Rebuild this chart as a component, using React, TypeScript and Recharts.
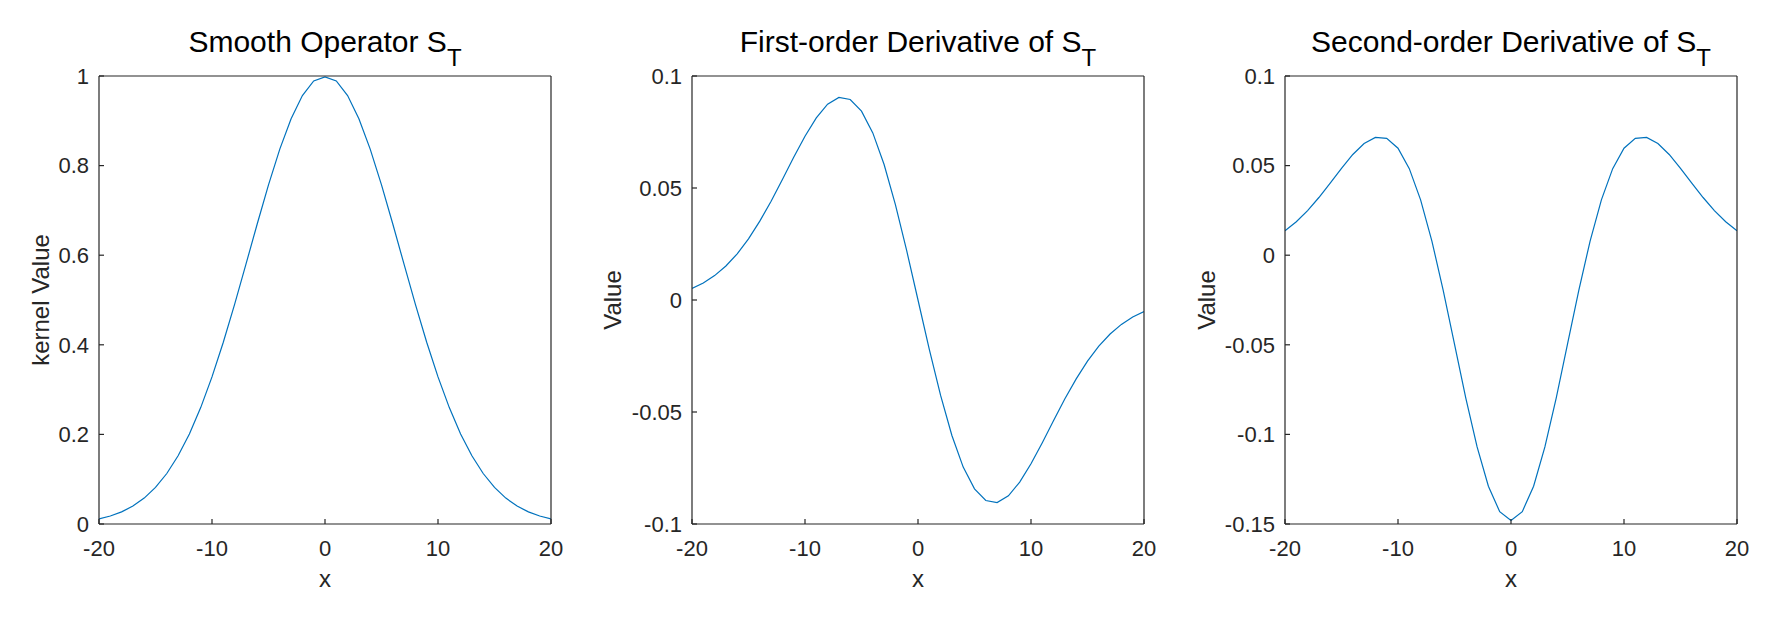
import React from 'react';
import { LineChart, Line, XAxis, YAxis } from 'recharts';

// ---------- data ----------
const xValues = [
  -20, -19, -18, -17, -16, -15, -14, -13, -12, -11, -10, -9, -8, -7, -6, -5, -4, -3, -2, -1,
  0, 1, 2, 3, 4, 5, 6, 7, 8, 9, 10, 11, 12, 13, 14, 15, 16, 17, 18, 19, 20,
];

const kernelValues = [
  0.0116, 0.0179, 0.0271, 0.04, 0.0578, 0.0816, 0.1127, 0.1522, 0.2011, 0.2598, 0.3283,
  0.4057, 0.4903, 0.5794, 0.6697, 0.757, 0.8368, 0.9046, 0.9564, 0.9889, 0.998,
  0.9889, 0.9564, 0.9046, 0.8368, 0.757, 0.6697, 0.5794, 0.4903, 0.4057, 0.3283,
  0.2598, 0.2011, 0.1522, 0.1127, 0.0816, 0.0578, 0.04, 0.0271, 0.0179, 0.0116,
];

const firstDerivValues = [
  0.0052, 0.0076, 0.0109, 0.0152, 0.0206, 0.0273, 0.0352, 0.0441, 0.0538, 0.0637, 0.0731,
  0.0813, 0.0874, 0.0904, 0.0895, 0.0843, 0.0746, 0.0605, 0.0426, 0.022, 0,
  -0.022, -0.0426, -0.0605, -0.0746, -0.0843, -0.0895, -0.0904, -0.0874, -0.0813, -0.0731,
  -0.0637, -0.0538, -0.0441, -0.0352, -0.0273, -0.0206, -0.0152, -0.0109, -0.0076, -0.0052,
];

const secondDerivValues = [
  0.0136, 0.0187, 0.0249, 0.0322, 0.0402, 0.0485, 0.0562, 0.0623, 0.0657, 0.0652, 0.0597,
  0.0483, 0.0309, 0.0079, -0.0196, -0.0496, -0.0797, -0.107, -0.1289, -0.1431, -0.148,
  -0.1431, -0.1289, -0.107, -0.0797, -0.0496, -0.0196, 0.0079, 0.0309, 0.0483, 0.0597,
  0.0652, 0.0657, 0.0623, 0.0562, 0.0485, 0.0402, 0.0322, 0.0249, 0.0187, 0.0136,
];

const xTicks = [-20, -10, 0, 10, 20];
const kernelTicks = [0, 0.2, 0.4, 0.6, 0.8, 1];
const firstTicks = [-0.1, -0.05, 0, 0.05, 0.1];
const secondTicks = [-0.15, -0.1, -0.05, 0, 0.05, 0.1];

const titles = ['Smooth Operator S', 'First-order Derivative of S', 'Second-order Derivative of S'];
const titleSubs = ['T', 'T', 'T'];
const yLabels = ['kernel Value', 'Value', 'Value'];

// ---------- layout ----------
const FONT = '"Liberation Sans", Arial, Helvetica, sans-serif';
const PANEL_W = 593;
const H = 618;
const PLOT_LEFT = 99;
const PLOT_RIGHT = 551;
const PLOT_TOP = 76;
const PLOT_BOTTOM = 524;
const AXIS_COLOR = '#262626';
const LINE_COLOR = '#0072BD';
const TICK_FS = 22;
const LABEL_FS = 24;
const TITLE_FS = 30;
const SUB_FS = 24;

const build = (vals: number[]) => xValues.map((x, i) => ({ x, y: vals[i] }));

interface PanelProps {
  values: number[];
  yTicks: number[];
  title: string;
  sub: string;
  yLabel: string;
  yLabelOffset: number;
  left: number;
}

const axisLineStyle = { stroke: AXIS_COLOR, strokeWidth: 1.2 };

const Panel = ({ values, yTicks, title, sub, yLabel, yLabelOffset, left }: PanelProps) => {
  const data = build(values);
  const domain: [number, number] = [yTicks[0], yTicks[yTicks.length - 1]];
  const cx = (PLOT_LEFT + PLOT_RIGHT) / 2;
  const cy = (PLOT_TOP + PLOT_BOTTOM) / 2;
  const tickStyle = { fontSize: TICK_FS, fill: AXIS_COLOR, fontFamily: FONT };
  return (
    <div style={{ position: 'absolute', left, top: 0, width: PANEL_W, height: H }}>
      <LineChart
        width={PANEL_W}
        height={H}
        data={data}
        margin={{ top: PLOT_TOP - 1, right: PANEL_W - PLOT_RIGHT - 1, bottom: 0, left: 0 }}
      >
        <XAxis
          dataKey="x"
          type="number"
          domain={[-20, 20]}
          allowDataOverflow
          ticks={xTicks}
          interval={0}
          height={H - PLOT_BOTTOM}
          tickSize={-5}
          tickMargin={21}
          axisLine={axisLineStyle}
          tickLine={axisLineStyle}
          tick={tickStyle}
          tickFormatter={(v: number) => String(v)}
        />
        <XAxis
          xAxisId="top"
          dataKey="x"
          orientation="top"
          type="number"
          domain={[-20, 20]}
          allowDataOverflow
          ticks={xTicks}
          interval={0}
          height={1}
          tickSize={-5}
          tickMargin={0}
          axisLine={axisLineStyle}
          tickLine={axisLineStyle}
          tick={false}
        />
        <YAxis
          type="number"
          domain={domain}
          allowDataOverflow
          ticks={yTicks}
          interval={0}
          width={PLOT_LEFT}
          tickSize={-5}
          tickMargin={15}
          axisLine={axisLineStyle}
          tickLine={axisLineStyle}
          tick={tickStyle}
          tickFormatter={(v: number) => String(v)}
        />
        <YAxis
          yAxisId="right"
          orientation="right"
          type="number"
          domain={domain}
          allowDataOverflow
          ticks={yTicks}
          interval={0}
          width={1}
          tickSize={-5}
          tickMargin={0}
          axisLine={axisLineStyle}
          tickLine={axisLineStyle}
          tick={false}
        />
        <Line
          dataKey="y"
          type="linear"
          stroke={LINE_COLOR}
          strokeWidth={1.2}
          dot={false}
          activeDot={false}
          isAnimationActive={false}
        />
        <Line
          xAxisId="top"
          yAxisId="right"
          dataKey="y"
          type="linear"
          stroke="none"
          strokeWidth={0}
          dot={false}
          activeDot={false}
          legendType="none"
          isAnimationActive={false}
        />
      </LineChart>
      <svg
        width={PANEL_W}
        height={H}
        style={{ position: 'absolute', left: 0, top: 0, pointerEvents: 'none' }}
      >
        <text
          x={cx}
          y={52}
          textAnchor="middle"
          fontFamily={FONT}
          fontSize={TITLE_FS}
          fill="#000"
        >
          {title}
          <tspan dy={14} fontSize={SUB_FS}>
            {sub}
          </tspan>
        </text>
        <text
          x={cx}
          y={578}
          textAnchor="middle"
          dominantBaseline="central"
          fontFamily={FONT}
          fontSize={LABEL_FS}
          fill={AXIS_COLOR}
        >
          x
        </text>
        <text
          transform={`translate(${PLOT_LEFT - yLabelOffset}, ${cy}) rotate(-90)`}
          textAnchor="middle"
          dominantBaseline="central"
          fontFamily={FONT}
          fontSize={LABEL_FS}
          fill={AXIS_COLOR}
        >
          {yLabel}
        </text>
      </svg>
    </div>
  );
};

export default function App() {
  return (
    <div
      style={{
        position: 'absolute',
        left: 0,
        top: 0,
        width: 1786,
        height: H,
        background: '#fff',
        fontFamily: FONT,
      }}
    >
      <Panel
        values={kernelValues}
        yTicks={kernelTicks}
        title={titles[0]}
        sub={titleSubs[0]}
        yLabel={yLabels[0]}
        yLabelOffset={59}
        left={0}
      />
      <Panel
        values={firstDerivValues}
        yTicks={firstTicks}
        title={titles[1]}
        sub={titleSubs[1]}
        yLabel={yLabels[1]}
        yLabelOffset={80}
        left={PANEL_W}
      />
      <Panel
        values={secondDerivValues}
        yTicks={secondTicks}
        title={titles[2]}
        sub={titleSubs[2]}
        yLabel={yLabels[2]}
        yLabelOffset={79}
        left={PANEL_W * 2}
      />
    </div>
  );
}
